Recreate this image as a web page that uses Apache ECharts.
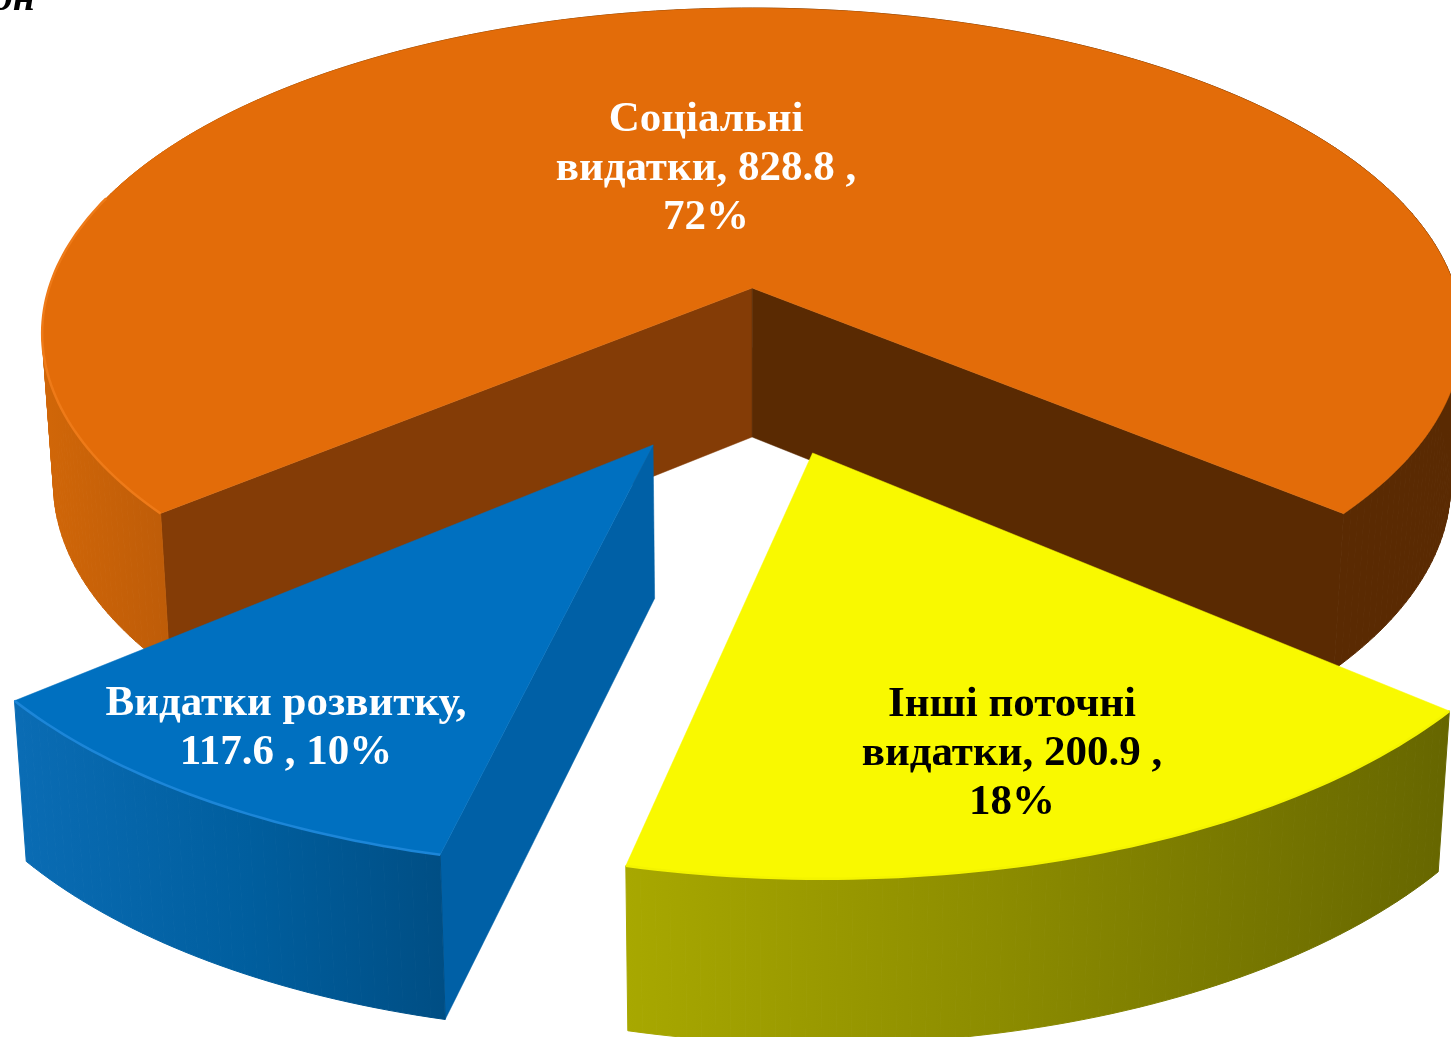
<!DOCTYPE html>
<html>
<head>
<meta charset="utf-8">
<style>html,body{margin:0;padding:0;background:#fff}#c{width:1451px;height:1037px}</style>
<script src="https://cdn.jsdelivr.net/npm/echarts@6/dist/echarts.min.js"></script>
</head>
<body>
<div id="c"></div>
<script>
// Data
const categories = ['Соціальні\nвидатки', 'Інші поточні\nвидатки', 'Видатки розвитку'];
const values = [828.8, 200.9, 117.6];
const valueLineBreak = [true, true, false];
const cornerText = 'он';

// Layout / camera of the tilted pie
const FONT = 'bold 43px "Liberation Serif", serif';
const cam = { cx: 750, cy: 288, R: 703, q: 0.454, k: 0.14, h: 149, hPow: 0.45, shrink: 0.016 };
const startAngle = 230;
const sliceStyle = [
  { off: [0.003, 0], r: 1, label: [706, 169], text: '#fff', top: '#E36C09', bevel: '#EE7A18', bevelPart: 0.22, wall: '#843C06', wall2: '#5A2A02',
    side: [[50, '#D06608'], [170, '#BE5C08'], [320, '#8A4406'], [1300, '#5A2A02']] },
  { off: [0.083, 0.482], r: 0.988, label: [1012, 754], text: '#000', top: '#F9F900', bevel: '#F4F400', bevelPart: 1, wall: '#6E6E00', wall2: '#6E6E00',
    side: [[625, '#A8A800'], [1000, '#8C8C00'], [1450, '#666600']] },
  { off: [-0.129, 0.46], r: 0.988, label: [286, 728], text: '#fff', top: '#0070C0', bevel: '#1C86D8', bevelPart: 1, wall: '#0060A6', wall2: '#0060A6',
    side: [[20, '#0A6CB4'], [250, '#005E9E'], [445, '#004E84']] }
];

const total = values.reduce((a, b) => a + b, 0);

function project(u, v, z) {
  const s = 1 / (1 - cam.k * v);
  let x = cam.cx + cam.R * u * s;
  const y = cam.cy + cam.R * cam.q * v * s + z * cam.h * Math.pow(s, cam.hPow);
  x = cam.cx + (x - cam.cx) * (1 - z * cam.shrink);
  return [x, y];
}

function hGradient(stops) {
  const x0 = stops[0][0], x1 = stops[stops.length - 1][0];
  return {
    type: 'linear', global: true, x: x0, y: 0, x2: x1, y2: 0,
    colorStops: stops.map(p => ({ offset: (p[0] - x0) / (x1 - x0), color: p[1] }))
  };
}

function labelOf(i) {
  const pct = Math.round(values[i] / total * 100);
  const v = values[i].toFixed(1);
  return valueLineBreak[i]
    ? categories[i] + ', ' + v + ' ,\n' + pct + '%'
    : categories[i] + ',\n' + v + ' , ' + pct + '%';
}

function cross(a, b, c) {
  return (b[0] - a[0]) * (c[1] - a[1]) - (b[1] - a[1]) * (c[0] - a[0]);
}

function renderItem(params, api) {
  const i = params.dataIndex;
  const st = sliceStyle[i];
  let before = 0;
  for (let j = 0; j < i; j++) before += values[j];
  const a0 = startAngle + before / total * 360;
  const a1 = a0 + api.value(0) / total * 360;
  const n = Math.max(24, Math.round(a1 - a0));
  const rim = [];
  for (let t = 0; t <= n; t++) {
    const a = (a0 + (a1 - a0) * t / n) * Math.PI / 180;
    rim.push([st.off[0] + st.r * Math.sin(a), st.off[1] - st.r * Math.cos(a)]);
  }
  const top = rim.map(p => project(p[0], p[1], 0));
  const bottom = rim.map(p => project(p[0], p[1], 1));
  const apexTop = project(st.off[0], st.off[1], 0);
  const apexBot = project(st.off[0], st.off[1], 1);
  const mid = top[Math.round(n / 2)];

  const children = [];
  // inner walls: only those that face the viewer
  [[0, st.wall], [n, st.wall2]].forEach(w => {
    const k = w[0];
    const below = [apexTop[0], apexTop[1] + 10];
    if (cross(apexTop, top[k], mid) * cross(apexTop, top[k], below) < 0) {
      children.push({
        type: 'polygon', silent: true,
        shape: { points: [apexTop, top[k], bottom[k], apexBot] },
        style: { fill: w[1], stroke: w[1], lineWidth: 0.5 }
      });
    }
  });
  // outer rim as a strip of quads
  const sideFill = hGradient(st.side);
  for (let t = 0; t < n; t++) {
    children.push({
      type: 'polygon', silent: true,
      shape: { points: [top[t], top[t + 1], bottom[t + 1], bottom[t]] },
      style: { fill: sideFill, stroke: sideFill, lineWidth: 1 }
    });
  }
  children.push({
    type: 'polygon', silent: true,
    shape: { points: [apexTop].concat(top) },
    style: { fill: st.top, stroke: st.top, lineWidth: 0.5 }
  });
  const m = Math.round(n * st.bevelPart);
  children.push({
    type: 'polyline', silent: true,
    shape: { points: top.slice(0, m + 1) },
    style: { fill: 'none', stroke: st.bevel, lineWidth: 2.5 }
  });
  children.push({
    type: 'text', silent: true,
    style: { text: labelOf(i), x: st.label[0], y: st.label[1], fill: st.text, font: FONT,
      align: 'center', verticalAlign: 'middle', lineHeight: 49 }
  });
  return { type: 'group', children };
}

const chart = echarts.init(document.getElementById('c'), null, { renderer: 'canvas' });
chart.setOption({
  animation: false,
  backgroundColor: '#fff',
  series: [{
    type: 'custom',
    coordinateSystem: 'none',
    renderItem,
    data: values.map(v => [v])
  }],
  graphic: [{
    type: 'text', silent: true, z: 100,
    style: { text: cornerText, x: 35, y: 20, fill: '#000', align: 'right', verticalAlign: 'bottom',
      font: 'italic bold 40px "Liberation Serif", serif' }
  }]
});
</script>
</body>
</html>
